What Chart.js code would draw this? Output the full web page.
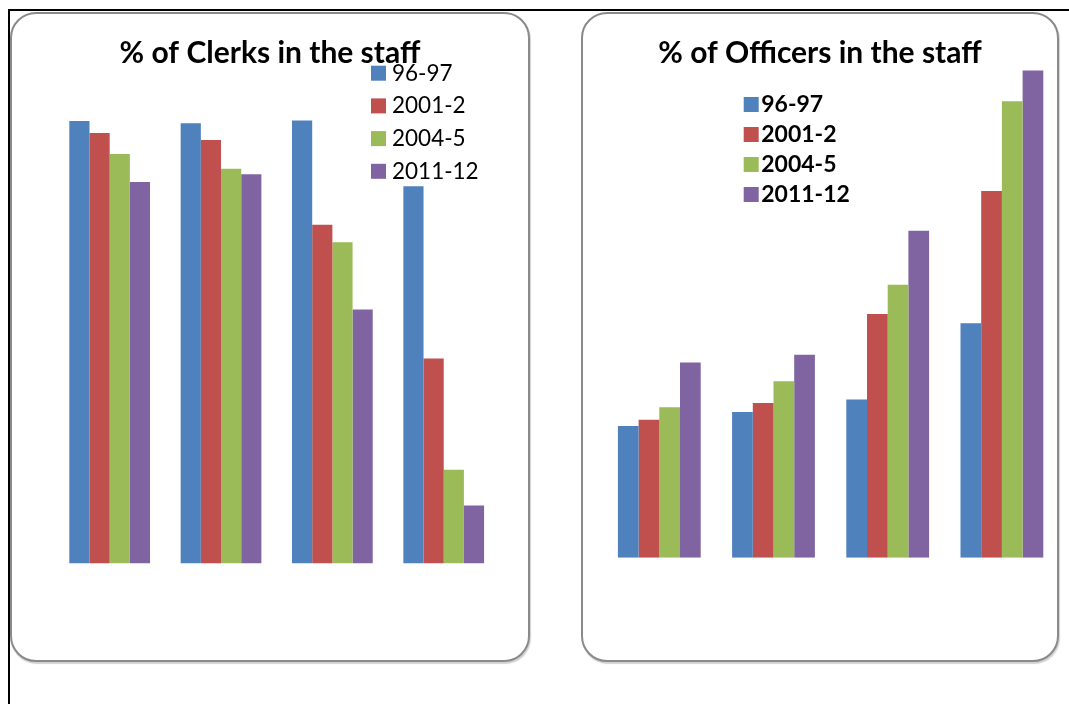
<html>
<head>
    <meta charset="UTF-8">
    <title>Clerks and Officers in the staff</title>
    <style>
        body { margin: 0; background: #fff; width: 1069px; height: 704px; position: relative; overflow: hidden; }
        .rule-top { position: absolute; left: 8px; top: 9px; width: 1061px; height: 2px; background: #000; }
        .rule-left { position: absolute; left: 8px; top: 9px; width: 2px; height: 695px; background: #000; }
        .panel { position: absolute; box-sizing: border-box; border: 2px solid #8a8a8a; border-radius: 26px;
                 box-shadow: 1px 2px 1px rgba(0,0,0,0.18); background: #fff; }
        canvas { position: absolute; }
    </style>
</head>
<body>
    <div class="rule-top"></div>
    <div class="rule-left"></div>
    <div class="panel" style="left:10px; top:12px; width:520px; height:650px;"></div>
    <div class="panel" style="left:581px; top:12px; width:478px; height:650px;"></div>
    <canvas id="clerksChart" width="520" height="649" style="left:10px; top:12px;"></canvas>
    <canvas id="officersChart" width="478" height="649" style="left:581px; top:12px;"></canvas>

    <script src="https://cdn.jsdelivr.net/npm/chart.js"></script>
    <script>
        // categories (no labels shown on the chart)
        const groups = ['1', '2', '3', '4'];
        const years = ['96-97', '2001-2', '2004-5', '2011-12'];

        // % of clerks, one array per year
        const clerks96 = [63.2, 62.9, 63.3, 53.9];
        const clerks01 = [61.5, 60.5, 48.4, 29.3];
        const clerks04 = [58.5, 56.4, 45.9, 13.4];
        const clerks11 = [54.5, 55.6, 36.3, 8.3];

        // % of officers, one array per year
        const officers96 = [18.8, 20.8, 22.6, 33.5];
        const officers01 = [19.7, 22.1, 34.8, 52.4];
        const officers04 = [21.5, 25.2, 39.0, 65.2];
        const officers11 = [27.9, 29.0, 46.7, 69.6];

        const colors = ['#4f81bd', '#c0504d', '#9bbb59', '#8064a2'];

        // title + legend drawn over the plot, like the Excel charts
        const panelText = {
            id: 'panelText',
            afterDraw(chart, args, opts) {
                const ctx = chart.ctx;
                ctx.save();
                ctx.fillStyle = '#000';
                ctx.font = opts.titleFont;
                ctx.textAlign = 'center';
                ctx.textBaseline = 'alphabetic';
                ctx.fillText(opts.title, chart.width / 2, opts.titleY);

                ctx.font = opts.legendFont;
                ctx.textAlign = 'left';
                chart.data.datasets.forEach((ds, i) => {
                    const y = opts.legendY + i * opts.legendStep;
                    ctx.fillStyle = ds.backgroundColor;
                    ctx.fillRect(opts.legendX, y - opts.box, opts.box, opts.box);
                    ctx.fillStyle = '#000';
                    ctx.fillText(ds.label, opts.legendX + opts.box + opts.gap, y);
                });
                ctx.restore();
            }
        };

        function makeChart(id, series, padding, textOpts) {
            return new Chart(document.getElementById(id), {
                type: 'bar',
                data: {
                    labels: groups,
                    datasets: series.map((s, i) => ({
                        label: years[i],
                        data: s,
                        backgroundColor: colors[i],
                        borderWidth: 0,
                        categoryPercentage: 0.725,
                        barPercentage: 1.0
                    }))
                },
                options: {
                    responsive: false,
                    animation: false,
                    layout: { padding: padding },
                    scales: {
                        x: { display: false },
                        y: { display: false, min: 0, max: 70 }
                    },
                    plugins: {
                        legend: { display: false },
                        tooltip: { enabled: false },
                        panelText: textOpts
                    }
                },
                plugins: [panelText]
            });
        }

        makeChart('clerksChart', [clerks96, clerks01, clerks04, clerks11],
            { left: 44, right: 30.6, top: 61.5, bottom: 97.5 },
            {
                title: '% of Clerks in the staff',
                titleFont: 'bold 30px Lato',
                titleY: 50.5,
                legendFont: '22.5px Lato',
                legendX: 361, legendY: 68.7, legendStep: 32.7,
                box: 15, gap: 6
            });

        makeChart('officersChart', [officers96, officers01, officers04, officers11],
            { left: 21.2, right: 0, top: 55.7, bottom: 103.3 },
            {
                title: '% of Officers in the staff',
                titleFont: 'bold 30px Lato',
                titleY: 50.5,
                legendFont: 'bold 23px Lato',
                legendX: 162.7, legendY: 100, legendStep: 30,
                box: 15, gap: 2.5
            });
    </script>
</body>
</html>
